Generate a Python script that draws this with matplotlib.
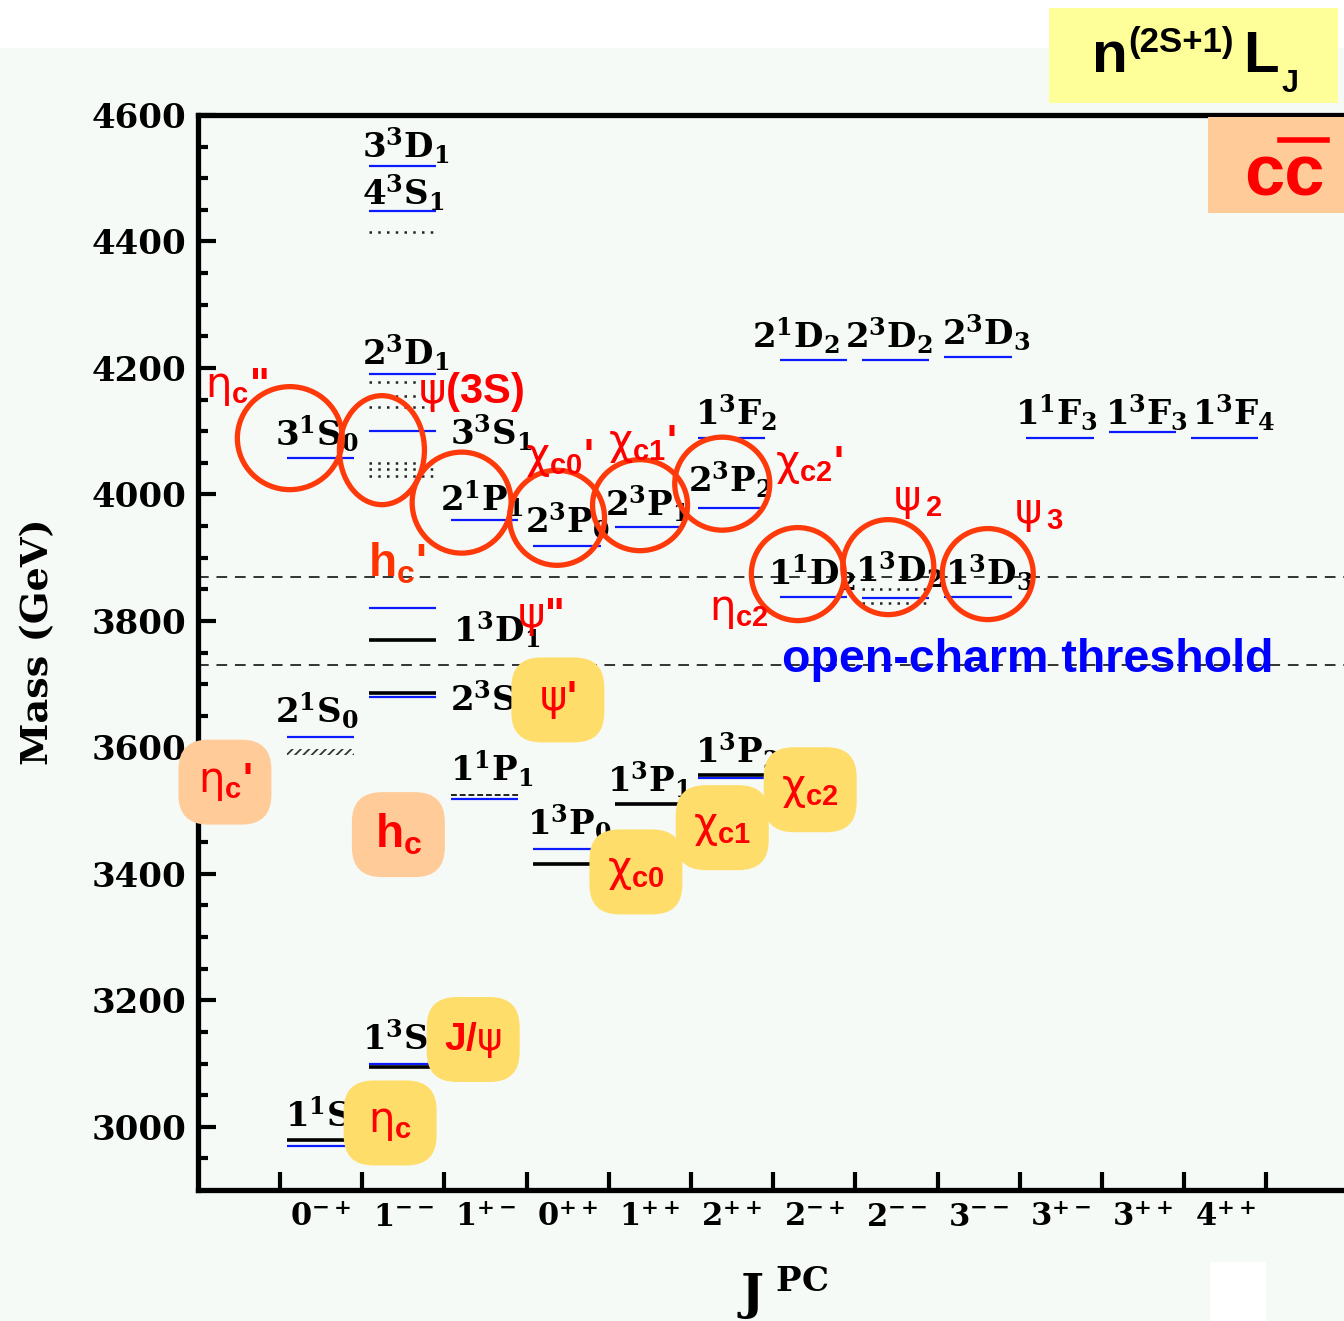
import numpy as np
import matplotlib
matplotlib.use("Agg")
import matplotlib.pyplot as plt
import matplotlib.transforms as mtransforms
from matplotlib.patches import Ellipse, FancyBboxPatch, Rectangle
from matplotlib.lines import Line2D

# ---- data -------------------------------------------------------------
jpc = ["0^{-+}", "1^{--}", "1^{+-}", "0^{++}", "1^{++}", "2^{++}",
       "2^{-+}", "2^{--}", "3^{--}", "3^{+-}", "3^{++}", "4^{++}"]

# potential-model predictions (blue)
pred_col = [0, 0, 0, 1, 1, 1, 1, 1, 1, 1, 2, 2, 3, 3, 4, 4, 5, 5, 5,
            6, 6, 7, 7, 8, 8, 9, 10, 11]
pred_mass = [2970, 3617, 4058, 3100, 3679, 3820, 4101, 4190, 4448, 4520,
             3519, 3960, 3440, 3919, 3510, 3948, 3552, 3979, 4090,
             3838, 4212, 3836, 4212, 3838, 4217, 4090, 4099, 4090]

# observed states (black)
obs_col = [0, 1, 1, 1, 3, 4, 5]
obs_mass = [2979, 3094, 3686, 3770, 3415, 3510, 3556]

# broad / uncertain states (dotted rows)
dot_col = [1, 1, 1, 1, 1, 1, 1, 7, 7]
dot_mass = [4415, 4178, 4155, 4139, 4049, 4040, 4029, 3851, 3828]

dash_col, dash_mass = [2], [3525]      # h_c
hatch_col, hatch_mass = [0], [3593]    # eta_c'

thresholds = [3870, 3730]

state_lbl = ["3^3D_1", "4^3S_1", "2^3D_1", "3^1S_0", "3^3S_1", "2^1P_1",
             "2^3P_0", "2^3P_1", "1^3F_2", "2^3P_2", "2^1D_2", "2^3D_2",
             "2^3D_3", "1^1F_3", "1^3F_3", "1^3F_4", "1^1D_2", "1^3D_2",
             "1^3D_3", "1^3D_1", "2^3S_1", "2^1S_0", "1^1P_1", "1^3P_0",
             "1^3P_1", "1^3P_2", "1^3S_1", "1^1S_0"]
lbl_x = [2.0, 2.0, 2.0, 0.94, 3.07, 2.95, 3.98, 4.95, 6.05, 5.96, 6.74,
         7.87, 9.05, 9.94, 11.04, 12.09, 6.94, 7.99, 9.09, 3.10, 3.07,
         0.94, 3.07, 4.0, 4.98, 6.05, 2.0, 1.06]
lbl_y = [4532, 4458, 4205, 4076, 4078, 3973, 3939, 3965, 4110, 4004, 4231,
         4231, 4236, 4110, 4110, 4110, 3857, 3862, 3857, 3767, 3657, 3638,
         3546, 3462, 3530, 3575, 3122, 3000]

# red names of the candidate states
name_txt = ['$\\mathrm{η}_{\\mathbf{c}}$"', "$\\mathrm{ψ}$(3S)",
            "$\\mathrm{χ}_{\\mathbf{c0}}$'", "$\\mathrm{χ}_{\\mathbf{c1}}$'",
            "$\\mathrm{χ}_{\\mathbf{c2}}$'", "$\\mathrm{ψ}_{\\mathbf{\\,2}}$",
            "$\\mathrm{ψ}_{\\mathbf{\\,3}}$", "$\\mathrm{η}_{\\mathbf{c2}}$",
            "h$_{\\mathbf{c}}$'", '$\\mathrm{ψ}$"']
name_x = [0.09, 2.68, 3.98, 4.99, 7.02, 8.46, 9.93, 6.22, 2.07, 3.88]
name_y = [4154, 4145, 4042, 4064, 4031, 3975, 3955, 3802, 3870, 3791]
name_col = ["#ff0000"] * 8 + ["#ff3300", "#ff0000"]
name_fs = [30, 30, 30, 30, 30, 30, 30, 30, 33, 30]

# circled predicted states: x, mass, width, height (inches)
circ_x = [1.12, 2.24, 3.21, 4.37, 5.38, 6.38, 7.30, 8.40, 9.61]
circ_y = [4089, 4070, 3987, 3963, 3983, 4017, 3874, 3885, 3874]
circ_w = [1.05, 0.85, 0.99, 0.95, 0.95, 0.95, 0.93, 0.91, 0.91]
circ_h = [1.03, 1.09, 1.01, 0.95, 0.91, 0.93, 0.93, 0.95, 0.91]

# established states in rounded boxes
bub_txt = ["$\\mathrm{ψ}$'", "$\\mathrm{η}_{\\mathbf{c}}$'", "h$_{\\mathbf{c}}$",
           "$\\mathrm{χ}_{\\mathbf{c2}}$", "$\\mathrm{χ}_{\\mathbf{c1}}$",
           "$\\mathrm{χ}_{\\mathbf{c0}}$", "J/$\\mathrm{ψ}$",
           "$\\mathrm{η}_{\\mathbf{c}}$"]
bub_x = [4.38, 0.33, 2.44, 7.45, 6.38, 5.33, 3.35, 2.34]
bub_y = [3675, 3545, 3462, 3533, 3473, 3403, 3138, 3006]
bub_fc = ["#ffdd6a", "#ffcc99", "#ffcc99", "#ffdd6a", "#ffdd6a", "#ffdd6a",
          "#ffdd6a", "#ffdd6a"]
bub_fs = [30, 30, 33, 30, 30, 30, 28, 30]

# ---- style ------------------------------------------------------------
plt.rcParams["font.family"] = ["DejaVu Serif"]
plt.rcParams["font.weight"] = "bold"
plt.rcParams["mathtext.fontset"] = "dejavuserif"
plt.rcParams["mathtext.rm"] = "DejaVu Sans:weight=normal"
plt.rcParams["mathtext.bf"] = "Liberation Sans:weight=bold"
plt.rcParams["mathtext.it"] = "DejaVu Sans:italic:weight=normal"
plt.rcParams["hatch.linewidth"] = 1.3
SANS = ["Liberation Sans", "DejaVu Sans"]

W, H = 1344, 1321
fig = plt.figure(figsize=(W / 100, H / 100), dpi=100)
fig.patch.set_facecolor("#f6faf7")
fig.add_artist(Rectangle((0, 1 - 48 / H), 1, 48 / H, transform=fig.transFigure,
                         fc="white", ec="none", zorder=-5))
fig.add_artist(Rectangle((1210 / W, 0), 56 / W, 59 / H, transform=fig.transFigure,
                         fc="white", ec="none", zorder=-5))

x0, y_top, y_bot = 197.8, 115, 1190
ax = fig.add_axes([x0 / W, 1 - y_bot / H, (W - x0) / W, (y_bot - y_top) / H])
ax.set_facecolor("none")
ax.set_xlim(0, (W - x0) / 82.2)
ax.set_ylim(2900, 4600)

for s in ["top", "bottom", "left"]:
    ax.spines[s].set_linewidth(3.8)
ax.spines["right"].set_visible(False)

ax.set_xticks(range(1, 14))
ax.set_xticks(np.arange(12) + 1.5, minor=True)
ax.set_xticklabels(["$\\mathbf{%s}$" % s for s in jpc], minor=True, fontsize=22)
ax.tick_params(axis="x", which="major", direction="in", length=13, width=3,
               labelbottom=False)
ax.tick_params(axis="x", which="minor", length=0, pad=9)

ax.set_yticks(np.arange(3000, 4601, 200))
ax.set_yticks(np.arange(2950, 4600, 50), minor=True)
ax.tick_params(axis="y", which="major", direction="in", length=13, width=3,
               labelsize=24.5, pad=8)
ax.tick_params(axis="y", which="minor", direction="in", length=7, width=3)

# ---- levels -----------------------------------------------------------
def span(cols):
    c = np.asarray(cols) + 1
    return c + 0.08, c + 0.9

for m in thresholds:
    ax.axhline(m, color="#333333", lw=1.4, ls=(0, (5.5, 4)), zorder=1)

a, b = span(pred_col)
ax.hlines(pred_mass, a, b, color="#0a1cff", lw=1.6, zorder=3)
a, b = span(obs_col)
ax.hlines(obs_mass, a, b, color="black", lw=2.6, zorder=3)
a, b = span(dot_col)
ax.hlines(dot_mass, a, b, color="#222222", lw=1.8, ls=(0, (1, 2.5)), zorder=3)
a, b = span(dash_col)
ax.hlines(dash_mass, a, b, color="#222222", lw=1.4, ls=(0, (3, 1.5)), zorder=3)
a, b = span(hatch_col)
for xa, xb, m in zip(a, b, hatch_mass):
    ax.add_patch(Rectangle((xa, m - 5), xb - xa, 10, fill=False, hatch="////",
                           ec="#333333", lw=0, zorder=3))

for t, x, y in zip(state_lbl, lbl_x, lbl_y):
    ax.text(x, y, "$\\mathbf{%s}$" % t, fontsize=24.5, ha="left", va="baseline",
            zorder=4)

ax.text(10.09, 3719, "open-charm threshold", color="#0000ff", fontsize=33.5,
        family=SANS, fontweight="bold", ha="center", va="baseline", zorder=4)


def at(x, y):
    # size in inches, centred on a data point
    return fig.dpi_scale_trans + mtransforms.ScaledTranslation(x, y, ax.transData)


for x, y, w, h in zip(circ_x, circ_y, circ_w, circ_h):
    ax.add_patch(Ellipse((0, 0), w, h, transform=at(x, y), fill=False,
                         ec="#ff3a0a", lw=3.8, zorder=6, clip_on=False))

for t, x, y, c, fs in zip(name_txt, name_x, name_y, name_col, name_fs):
    ax.text(x, y, t, color=c, fontsize=fs, family=SANS, fontweight="bold",
            math_fontfamily="custom", ha="left", va="baseline", zorder=7)

for t, x, y, fc, fs in zip(bub_txt, bub_x, bub_y, bub_fc, bub_fs):
    ax.add_patch(FancyBboxPatch((-0.465, -0.425), 0.93, 0.85,
                                boxstyle="round,pad=0,rounding_size=0.3",
                                transform=at(x, y), fc=fc, ec="none", zorder=8,
                                clip_on=False))
    ax.text(x, y, t, color="#ff0000", fontsize=fs, family=SANS, fontweight="bold",
            math_fontfamily="custom", ha="center", va="center", zorder=9)

# ---- axis titles ------------------------------------------------------
fig.text(38 / W, 1 - 642 / H, "Mass (GeV)", rotation=90, fontsize=27.5,
         ha="center", va="center")
fig.text(783 / W, 1 - 1293 / H, "$\\mathbf{J}^{\\ \\mathbf{PC}}$", fontsize=35,
         ha="center", va="center")

# ---- corner boxes -----------------------------------------------------
fig.add_artist(Rectangle((1049 / W, 1 - 103 / H), 289 / W, 95 / H,
                         transform=fig.transFigure, fc="#ffff99", ec="none", zorder=5))
fig.add_artist(Rectangle((1208 / W, 1 - 213 / H), 136 / W, 96 / H,
                         transform=fig.transFigure, fc="#ffcc99", ec="none", zorder=5))
fig.text(1092 / W, 1 - 72 / H, "n", fontsize=42, family=SANS, ha="left",
         va="baseline", zorder=6)
fig.text(1128 / W, 1 - 52 / H, "(2S+1)", fontsize=25, family=SANS, ha="left",
         va="baseline", zorder=6)
fig.text(1243 / W, 1 - 72 / H, "L", fontsize=42, family=SANS, ha="left",
         va="baseline", zorder=6)
fig.text(1282 / W, 1 - 92 / H, "J", fontsize=22, family=SANS, ha="left",
         va="baseline", zorder=6)
fig.text(1244 / W, 1 - 195 / H, "cc", fontsize=52, family=SANS, color="#ff0000",
         ha="left", va="baseline", zorder=6)
fig.add_artist(Line2D([1280 / W, 1327 / W], [1 - 140 / H, 1 - 140 / H],
                      transform=fig.transFigure, color="#ff0000", lw=4, zorder=6))

fig.savefig("out.png", dpi=100, facecolor=fig.get_facecolor())
